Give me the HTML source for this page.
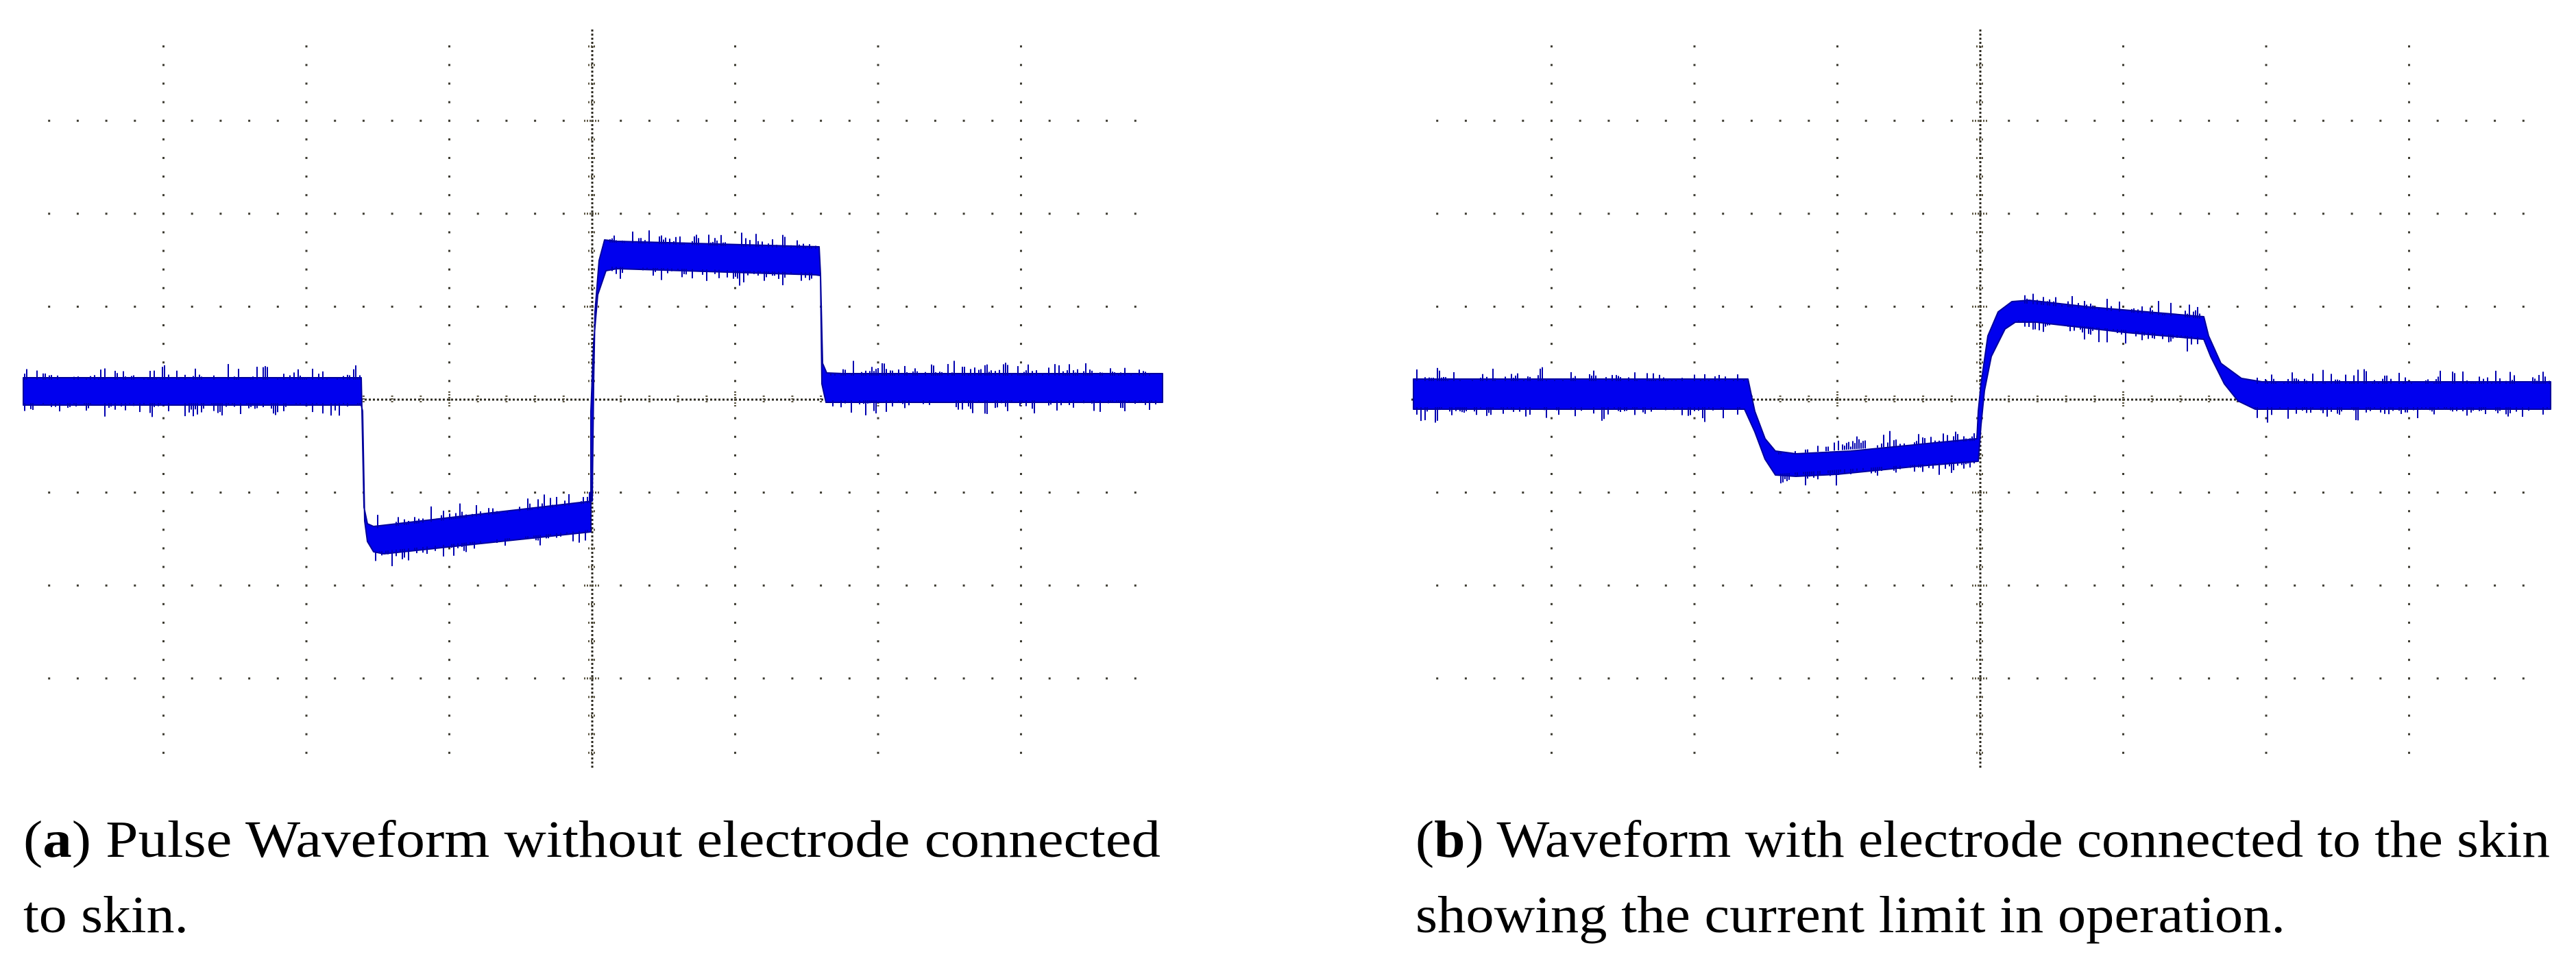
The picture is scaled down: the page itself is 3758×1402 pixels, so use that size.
<!DOCTYPE html>
<html><head><meta charset="utf-8"><style>
html,body{margin:0;padding:0;background:#fff;}
svg{display:block;}
</style></head><body>
<svg id="s" width="3758" height="1402" viewBox="0 0 3758 1402" xmlns="http://www.w3.org/2000/svg">
<defs>
<g id="grid">
  <!-- major rows (minor dots every 41.7) -->
  <g fill="#3c3a30" id="rows"></g>
  <!-- axes -->
  <line x1="34" y1="583" x2="1694" y2="583" stroke="#2e2b22" stroke-width="3" stroke-dasharray="3 3"/>
  <line x1="864" y1="43" x2="864" y2="1123" stroke="#2e2b22" stroke-width="3" stroke-dasharray="3 3"/>
  <g id="ticks" stroke="#5a5440" stroke-width="3" stroke-dasharray="2 2"></g>
</g>
</defs>
<use href="#grid" x="0" y="0"/>
<use href="#grid" x="2025" y="0"/>

<g id="traces" fill="#0000ee" stroke="#00009c" stroke-width="2" stroke-linejoin="round">
<polygon points="34,551 527,551 531,740 536,764 545,768 864,731 866,560 868,455 874,380 882,350 900,352 1195,360 1197,400 1200,530 1206,544 1230,545 1696,545 1696,587 1205,587 1199,560 1197,402 1190,401 900,392 884,395 872,430 866,500 862,600 862,776 560,808 545,805 536,790 532,760 529,600 527,591 34,591"/>
<polygon points="2062,553 2550,553 2560,600 2575,640 2590,658 2620,662 2700,658 2884,640 2886,600 2890,560 2900,490 2915,455 2935,440 2960,438 3050,448 3215,462 3222,490 3240,530 3270,552 3300,557 3721,557 3721,597 3290,597 3265,585 3245,560 3225,520 3215,495 3100,485 2970,470 2940,470 2925,480 2905,520 2895,570 2890,620 2886,673 2800,680 2680,692 2620,695 2590,693 2575,670 2560,630 2545,597 2062,597"/>
</g>
<g id="noise" stroke="#0000b0" stroke-width="2"></g>

<g font-family="'Liberation Serif', serif" font-size="76" fill="#000">
<text x="34" y="1250" textLength="1659" lengthAdjust="spacingAndGlyphs">(<tspan font-weight="bold">a</tspan>) Pulse Waveform without electrode connected</text>
<text x="34" y="1360" textLength="241" lengthAdjust="spacingAndGlyphs">to skin.</text>
<text x="2065" y="1250" textLength="1655" lengthAdjust="spacingAndGlyphs">(<tspan font-weight="bold">b</tspan>) Waveform with electrode connected to the skin</text>
<text x="2065" y="1360" textLength="1269" lengthAdjust="spacingAndGlyphs">showing the current limit in operation.</text>
</g>
</svg>
<script>
(function(){
var NS="http://www.w3.org/2000/svg";
var rows=document.getElementById('rows'), ticks=document.getElementById('ticks');
function rect(p,x,y,w,h){var r=document.createElementNS(NS,'rect');r.setAttribute('x',x);r.setAttribute('y',y);r.setAttribute('width',w);r.setAttribute('height',h);p.appendChild(r);}
function line(p,x1,y1,x2,y2){var l=document.createElementNS(NS,'line');l.setAttribute('x1',x1);l.setAttribute('y1',y1);l.setAttribute('x2',x2);l.setAttribute('y2',y2);p.appendChild(l);}
var cx=864, cy=583, dx=208.5/5, dy=135.6/5;
for(var k=-3;k<=3;k++){ if(k==0)continue;
  var y=cy+k*135.6;
  for(var i=-19;i<=19;i++){ rect(rows,cx+i*dx-1.5,y-1.5,3,3); }
  var x=cx+k*208.5;
  for(var j=-19;j<=19;j++){ rect(rows,x-1.5,cy+j*dy-1.5,3,3); }
}
for(var i=-19;i<=19;i++){ if(i==0)continue; var h=(i%5==0)?12:6; line(ticks,cx+i*dx,cy-h,cx+i*dx,cy+h);}
for(var j=-19;j<=19;j++){ if(j==0)continue; var w=(j%5==0)?12:6; line(ticks,cx-w,cy+j*dy,cx+w,cy+j*dy);}
// noise spikes
var seed=7;function rnd(){seed=(seed*16807)%2147483647;return seed/2147483647;}
var nz=document.getElementById('noise');
function band(x0,x1,t0,t1,b0,b1){
  for(var x=x0;x<=x1;x+=3){
    var f=(x-x0)/(x1-x0), t=t0+(t1-t0)*f, b=b0+(b1-b0)*f;
    if(rnd()<0.5) line(nz,x,t+3,x,t-rnd()*rnd()*22);
    if(rnd()<0.5) line(nz,x,b-3,x,b+rnd()*rnd()*22);
  }
}
band(36,525,551,551,591,591);
band(548,860,768,731,808,776);
band(890,1192,351,360,392,401);
band(1212,1694,545,545,587,587);
band(2064,2545,553,553,597,597);
band(2595,2882,660,640,694,675);
band(2945,3212,439,462,470,495);
band(3290,3719,557,557,597,597);
})();
</script>
</body></html>
